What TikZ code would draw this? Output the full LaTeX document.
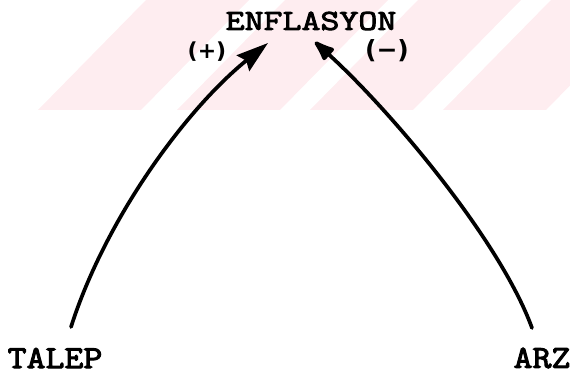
\documentclass[tikz,border=0pt]{standalone}
\usepackage{fontspec}
\newfontfamily\twfont{Latin Modern Mono}[FakeStretch=1.27, FakeBold=3.2]
\newfontfamily\twfontb{Latin Modern Mono}[FakeStretch=1.15, FakeBold=3.2]
\newfontfamily\sgfont{DejaVu Sans}
\usetikzlibrary{arrows.meta}
\definecolor{wmpink}{RGB}{254,237,240}
\tikzset{
  lbl/.style={font=\twfont\fontsize{29}{29}\selectfont, inner sep=0pt, text=black},
  lblb/.style={font=\twfontb\fontsize{32}{32}\selectfont, inner sep=0pt, text=black},
  sign/.style={font=\sgfont\bfseries\fontsize{22}{22}\selectfont, inner sep=0pt, text=black},
  conn/.style={line width=3.7pt, black, line cap=round},
}
\begin{document}
\begin{tikzpicture}[x=1pt,y=-1pt]
\useasboundingbox (0,0) rectangle (570,374);
% watermark stripes
\begin{scope}
\clip (0,0) rectangle (570,110);
\foreach \b in {38,177,310,443}{
  \fill[wmpink] (\b,110) -- (\b+103,110) -- (\b+211,0) -- (\b+108,0) -- cycle;
}
\end{scope}
% labels
\node[lbl] (enf) at (311,21) {ENFLASYON};
\node[lblb] (talep) at (55,358) {TALEP};
\node[lblb] (arz) at (542,358) {ARZ};
\node[sign] (plus) at (207,52) {(+)};
\node[sign, font=\sgfont\bfseries\fontsize{25}{25}\selectfont] (minus) at (387,51) {(−)};
% anchor points
\coordinate (tipL) at (268,43);
\coordinate (tipR) at (315,42);
\coordinate (startL) at (71,327);
\coordinate (startR) at (532,328);
% connectors
\draw[conn, -{Stealth[length=32pt,width=20pt,inset=4pt]}] (startL) .. controls (105,220) and (185,110) .. (tipL);
\draw[conn, -{Latex[length=26pt,width=18pt,round]}] (startR) .. controls (500,240) and (390,110) .. (tipR);
\end{tikzpicture}
\end{document}
